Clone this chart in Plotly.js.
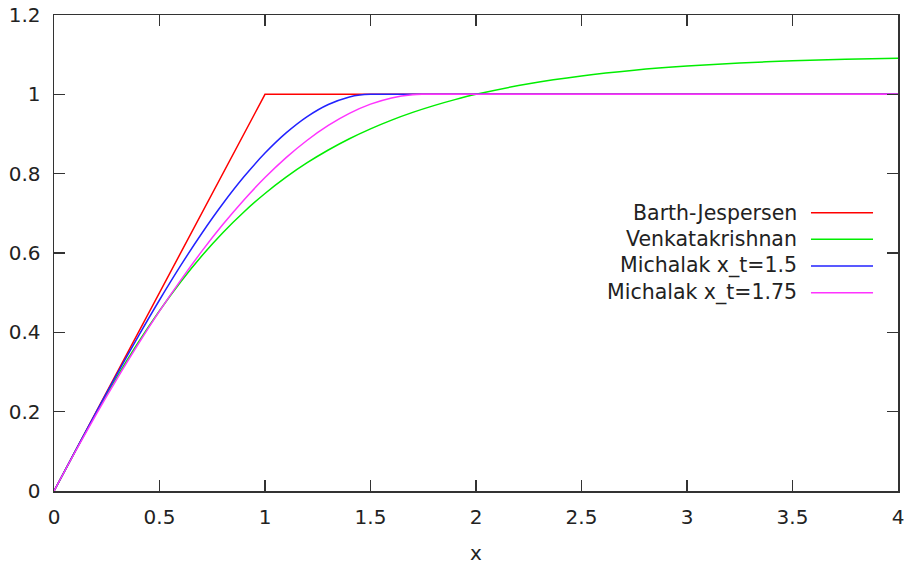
<!DOCTYPE html>
<html>
<head>
<meta charset="utf-8">
<script src="https://cdn.plot.ly/plotly-3.0.1.min.js"></script>
<style>html,body{margin:0;padding:0;background:#fff;}#chart{width:907px;height:568px;}</style>
</head>
<body>
<div id="chart"></div>
<script>
// Series names
const seriesNames = ["Barth-Jespersen", "Venkatakrishnan", "Michalak x_t=1.5", "Michalak x_t=1.75"];
const seriesColors = ["#ff0000", "#00ee00", "#2222ff", "#ff33ff"];

// Barth-Jespersen
const bjX = [0, 1, 4];
const bjY = [0, 1, 1];

// Venkatakrishnan
const vkX = [0, 0.1, 0.2, 0.3, 0.4, 0.5, 0.6, 0.7, 0.8, 0.9, 1.0, 1.1, 1.2, 1.3, 1.4, 1.5, 1.6, 1.7, 1.8, 1.9, 2.0, 2.25, 2.5, 2.75, 3.0, 3.25, 3.5, 3.75, 4.0];
const vkY = [0, 0.0995, 0.1964, 0.2887, 0.375, 0.4545, 0.527, 0.5925, 0.6512, 0.7035, 0.75, 0.7912, 0.8276, 0.8597, 0.8881, 0.913, 0.9351, 0.9545, 0.9716, 0.9867, 1.0, 1.0268, 1.0465, 1.0609, 1.0714, 1.0791, 1.0845, 1.0883, 1.0909];

// Michalak x_t = 1.5
const m15X = [0, 0.1, 0.2, 0.3, 0.4, 0.5, 0.6, 0.7, 0.8, 0.9, 1.0, 1.1, 1.2, 1.3, 1.4, 1.45, 1.5, 1.6, 2.0, 4.0];
const m15Y = [0, 0.0999, 0.1988, 0.296, 0.3905, 0.4815, 0.568, 0.6492, 0.7241, 0.792, 0.8519, 0.9028, 0.944, 0.9745, 0.9935, 0.9984, 1.0, 1.0, 1.0, 1.0];

// Michalak x_t = 1.75
const m175X = [0, 0.1, 0.2, 0.3, 0.4, 0.5, 0.6, 0.7, 0.8, 0.9, 1.0, 1.1, 1.2, 1.3, 1.4, 1.5, 1.6, 1.7, 1.75, 1.85, 2.2, 4.0];
const m175Y = [0, 0.0983, 0.1931, 0.284, 0.3709, 0.4534, 0.5311, 0.604, 0.6716, 0.7337, 0.7901, 0.8404, 0.8843, 0.9216, 0.952, 0.9752, 0.991, 0.999, 1.0, 1.0, 1.0, 1.0];

const xs = [bjX, vkX, m15X, m175X];
const ys = [bjY, vkY, m15Y, m175Y];
const shapesOfLine = ["linear", "spline", "spline", "spline"];

const FONT = "DejaVu Sans, sans-serif";
const traces = xs.map((x, i) => ({
  x: x, y: ys[i], name: seriesNames[i], type: "scatter", mode: "lines",
  line: {color: seriesColors[i], width: 1.5, shape: shapesOfLine[i], smoothing: 0.8},
  showlegend: false, hoverinfo: "skip"
}));

// Gnuplot-style key: text right-aligned, sample line to the right
const keyTextX = 0.8827, keyLineX0 = 0.8969, keyLineX1 = 0.9704;
const keyRows = [0.5847, 0.5288, 0.4727, 0.4166];
const annotations = seriesNames.map((n, i) => ({
  xref: "paper", yref: "paper", x: keyTextX, y: keyRows[i], xanchor: "right", yanchor: "middle",
  text: n, showarrow: false, font: {family: FONT, size: 20.5, color: "#222"}
}));
const shapes = seriesNames.map((n, i) => ({
  type: "line", xref: "paper", yref: "paper", x0: keyLineX0, x1: keyLineX1, y0: keyRows[i], y1: keyRows[i],
  line: {color: seriesColors[i], width: 1.5}
}));

const axisCommon = {
  showgrid: false, zeroline: false, showline: true, linecolor: "#333", linewidth: 1.5,
  mirror: "ticks", ticks: "inside", ticklen: 11, tickwidth: 1.5, tickcolor: "#333",
  tickfont: {family: FONT, size: 20, color: "#222"}
};

const layout = {
  width: 907, height: 568,
  margin: {l: 54, r: 9, t: 15, b: 77},
  paper_bgcolor: "#fff", plot_bgcolor: "#fff",
  xaxis: Object.assign({}, axisCommon, {
    range: [0, 4], tick0: 0, dtick: 0.5, ticklabelstandoff: 7,
    title: {text: "x", font: {family: FONT, size: 20, color: "#222"}, standoff: 18}
  }),
  yaxis: Object.assign({}, axisCommon, {
    range: [0, 1.2], tick0: 0, dtick: 0.2, ticklabelstandoff: 8
  }),
  annotations: annotations, shapes: shapes
};

Plotly.newPlot("chart", traces, layout, {displayModeBar: false, staticPlot: true});
</script>
</body>
</html>
